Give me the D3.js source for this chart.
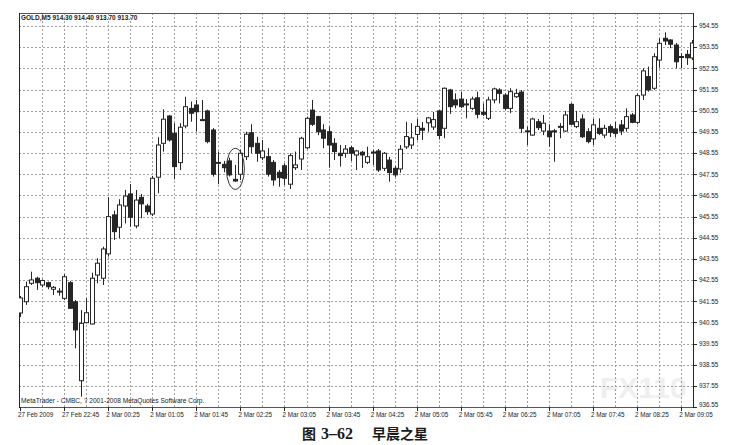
<!DOCTYPE html>
<html><head><meta charset="utf-8">
<script src="https://cdn.jsdelivr.net/npm/d3@7/dist/d3.min.js"></script>
<style>body{margin:0;background:#fff;}svg{display:block;}</style>
</head><body>
<svg id="c" width="738" height="445"></svg>
<script>
const openP = [941.00,941.53,942.40,942.64,942.32,942.43,942.12,941.99,941.69,942.43,941.53,937.80,940.54,940.48,942.79,942.64,943.79,945.63,945.05,946.05,946.62,945.11,946.46,946.05,945.67,947.41,949.01,950.30,949.48,948.10,949.83,950.66,950.82,950.13,950.54,949.64,948.08,948.02,948.18,947.31,947.55,948.38,949.51,949.01,948.33,948.38,948.11,947.64,947.95,947.08,947.86,948.27,948.80,950.58,950.27,949.64,949.56,949.01,948.54,948.54,948.80,948.46,948.59,948.11,948.58,948.65,947.83,948.22,947.83,947.80,948.84,948.93,949.43,949.72,949.98,949.78,950.54,949.72,951.53,951.06,951.10,950.87,950.66,951.16,950.48,950.19,951.06,951.53,951.29,950.66,951.21,951.43,949.58,949.40,950.03,949.59,949.59,949.60,949.78,949.59,950.85,949.80,950.16,949.56,949.22,949.72,949.40,949.80,949.69,949.88,949.72,950.35,950.00,951.29,952.16,951.61,952.94,953.97,953.89,953.65,953.09,953.21,953.04];
const highP = [941.80,942.48,942.95,942.71,942.59,942.48,942.27,942.17,942.83,942.51,941.61,941.14,941.69,942.90,943.58,944.13,946.46,945.83,946.37,946.81,947.09,946.81,946.62,946.15,947.47,949.30,950.62,950.35,949.96,949.96,951.21,950.98,951.06,951.06,950.60,949.73,948.62,948.18,948.33,947.99,948.70,949.56,949.91,949.32,949.17,948.78,948.22,947.75,948.07,948.54,948.62,949.32,950.27,951.06,950.31,949.91,949.80,949.25,948.93,948.93,948.88,948.70,948.65,948.85,948.70,948.74,948.60,948.37,947.94,948.93,950.03,949.96,950.16,950.02,950.25,950.49,950.58,951.65,951.58,951.37,951.45,951.10,951.21,951.45,950.90,951.21,951.64,951.61,951.37,951.61,951.58,951.53,949.80,950.22,950.16,950.35,949.91,949.69,949.96,950.54,950.91,950.54,950.38,949.72,950.16,950.19,949.88,949.91,950.02,950.11,950.66,950.44,951.37,952.55,952.63,953.26,953.97,954.25,953.92,953.75,953.26,953.42,953.89];
const lowP = [940.81,941.38,942.32,942.09,942.21,942.12,941.85,941.82,941.61,941.19,939.33,937.05,940.51,940.46,942.40,942.32,943.66,944.45,944.53,945.23,945.07,945.00,945.47,945.63,945.58,946.65,948.62,949.09,947.31,947.75,949.72,950.03,949.56,950.06,949.01,947.44,947.08,947.64,947.44,947.20,947.28,948.22,948.54,948.14,948.22,947.44,947.01,946.96,947.04,946.85,947.75,947.75,948.74,949.83,949.40,948.78,947.86,948.22,947.91,948.33,948.18,947.75,947.85,948.03,947.99,947.66,947.70,947.20,947.42,947.62,948.74,948.74,949.15,949.17,949.56,949.64,949.19,949.25,950.40,950.66,950.68,950.19,950.58,950.19,950.30,950.11,950.90,950.90,950.58,950.43,951.15,949.50,948.93,949.36,949.64,949.40,948.85,948.14,949.25,949.55,949.88,949.73,949.26,949.01,948.93,949.40,949.25,949.31,949.31,949.40,949.56,949.96,949.91,951.06,951.45,951.53,952.58,953.65,953.50,952.55,952.55,952.71,952.94];
const closeP = [941.71,942.24,942.56,942.43,942.53,942.24,942.21,942.03,942.71,941.22,940.20,940.51,941.01,942.64,943.35,944.02,945.55,944.84,946.10,946.52,945.52,946.33,946.15,945.78,947.36,948.93,950.15,949.17,947.91,949.77,950.74,950.43,950.50,950.10,949.09,947.55,948.11,947.86,947.52,947.23,948.54,949.44,948.85,948.54,948.65,947.55,947.28,947.39,947.36,948.43,947.99,949.25,950.19,949.91,949.56,949.25,948.93,948.62,948.43,948.74,948.54,948.65,948.46,948.38,948.60,947.75,948.54,947.63,947.52,948.73,949.33,949.27,949.81,949.63,950.21,950.13,949.38,951.61,950.74,950.82,950.74,950.84,951.10,950.38,950.38,951.06,951.58,951.37,950.66,951.45,951.37,949.72,949.60,950.16,949.75,949.96,949.32,949.57,949.81,950.35,949.91,950.03,949.32,949.09,949.88,949.48,949.72,949.53,949.48,949.59,950.27,950.00,951.26,952.43,951.53,953.10,953.73,953.84,953.69,952.86,953.11,953.05,953.75];
const priceTicks = [936.55,937.55,938.55,939.55,940.55,941.55,942.55,943.55,944.55,945.55,946.55,947.55,948.55,949.55,950.55,951.55,952.55,953.55,954.55];
const timeTickBars = [0,8,16,24,32,40,48,56,64,72,80,88,96,104,112,120];
const timeTickLabels = ["27 Feb 2009","27 Feb 22:45","2 Mar 00:25","2 Mar 01:05","2 Mar 01:45","2 Mar 02:25","2 Mar 03:05","2 Mar 03:45","2 Mar 04:25","2 Mar 05:05","2 Mar 05:45","2 Mar 06:25","2 Mar 07:05","2 Mar 07:45","2 Mar 08:25","2 Mar 09:05"];
const gridBars = [0,4,8,12,16,20,24,28,32,36,40,44,48,52,56,60,64,68,72,76,80,84,88,92,96,100,104,108,112,116,120];
const starBar = 39;
const headerText = "GOLD,M5  914.30 914.40 913.70 913.70";
const footerText = "MetaTrader - CMBC, ? 2001-2008 MetaQuotes Software Corp.";

const svg = d3.select("#c");
const L = 19, R = 693, T = 13, B = 407;
const x = d3.scaleLinear().domain([0, 122]).range([20, 692.2]);
const y = d3.scaleLinear().domain([936.55, 954.55]).range([407.2, 26]);
const ink = "#262626";
const font = "'Liberation Sans', Arial, sans-serif";

svg.append("defs").append("clipPath").attr("id","pc")
  .append("rect").attr("x",L).attr("y",T).attr("width",R-L).attr("height",B-T);

// faint watermark inside the plot
svg.append("text").attr("x",600).attr("y",398).attr("font-family",font).attr("font-weight","bold")
  .attr("font-size",30).attr("fill","#efefef").text("FX110");

// grid
const g = svg.append("g");
g.selectAll(".hg").data(priceTicks.slice(1)).join("line")
  .attr("x1",L).attr("x2",R).attr("y1",d=>Math.round(y(d))+0.5).attr("y2",d=>Math.round(y(d))+0.5)
  .attr("stroke","#a0a0a0").attr("stroke-dasharray","2,2").attr("stroke-width",1);
g.selectAll(".vg").data(gridBars.slice(1)).join("line")
  .attr("x1",d=>Math.round(x(d))+0.5).attr("x2",d=>Math.round(x(d))+0.5).attr("y1",T).attr("y2",B)
  .attr("stroke","#a0a0a0").attr("stroke-dasharray","2,2").attr("stroke-width",1);

// frame
svg.append("rect").attr("x",L+0.5).attr("y",T+0.5).attr("width",R-L).attr("height",B-T)
  .attr("fill","none").attr("stroke","#555").attr("stroke-width",1);
svg.append("line").attr("x1",L+0.5).attr("x2",L+0.5).attr("y1",T).attr("y2",B+1).attr("stroke",ink);
svg.append("line").attr("x1",R+0.5).attr("x2",R+0.5).attr("y1",T).attr("y2",B+1).attr("stroke",ink);

// candles
const data = openP.map((o,i)=>({i,o,h:highP[i],l:lowP[i],c:closeP[i]}));
const cg = svg.append("g").attr("clip-path","url(#pc)");
cg.selectAll(".wick").data(data).join("line")
  .attr("x1",d=>Math.round(x(d.i))+0.5).attr("x2",d=>Math.round(x(d.i))+0.5)
  .attr("y1",d=>y(d.h)).attr("y2",d=>y(d.l)).attr("stroke",ink).attr("stroke-width",1);
cg.selectAll(".body").data(data).join("rect")
  .attr("x",d=>Math.round(x(d.i))-1.5).attr("width",4)
  .attr("y",d=>y(Math.max(d.o,d.c))).attr("height",d=>Math.max(1,Math.abs(y(d.o)-y(d.c))))
  .attr("fill",d=>d.c>=d.o?"#fff":ink).attr("stroke",ink).attr("stroke-width",1);

// price axis
const ya = svg.append("g");
ya.selectAll("line").data(priceTicks).join("line")
  .attr("x1",R).attr("x2",R+4).attr("y1",d=>Math.round(y(d))+0.5).attr("y2",d=>Math.round(y(d))+0.5).attr("stroke",ink);
ya.selectAll("text").data(priceTicks).join("text")
  .attr("x",R+6).attr("y",d=>Math.min(y(d)+2.3, 407)).attr("font-family",font).attr("font-size",6.3).attr("fill","#222")
  .text(d=>d3.format(".2f")(d));

// time axis
const xa = svg.append("g");
xa.selectAll("line").data(timeTickBars).join("line")
  .attr("x1",d=>Math.round(x(d))+0.5).attr("x2",d=>Math.round(x(d))+0.5).attr("y1",B).attr("y2",B+4).attr("stroke",ink);
xa.selectAll("text").data(timeTickBars).join("text")
  .attr("x",d=>x(d)-2).attr("y",B+9.5).attr("font-family",font).attr("font-size",6.3).attr("fill","#222")
  .text((d,k)=>timeTickLabels[k]);

// header / footer
svg.append("text").attr("x",21).attr("y",20).attr("font-family",font).attr("font-size",6.5).attr("font-weight","bold")
  .attr("fill","#222").text(headerText);
svg.append("text").attr("x",21).attr("y",403).attr("font-family",font).attr("font-size",6.6)
  .attr("fill","#222").text(footerText);

// morning star ellipse
svg.append("ellipse").attr("cx",x(starBar)+0.5).attr("cy",(y(highP[starBar-1])+y(lowP[starBar+1]))/2)
  .attr("rx",9).attr("ry",20.5).attr("fill","none").attr("stroke","#333").attr("stroke-width",1);

// caption
const cap = svg.append("text").attr("y",439).attr("fill","#1a1a1a");
cap.append("tspan").attr("x",302).attr("font-family","'Noto Sans CJK SC'").attr("font-weight","bold").attr("font-size",14).text("图");
cap.append("tspan").attr("x",321).attr("font-family","'Liberation Serif', serif").attr("font-weight","bold").attr("font-size",16).text("3–62");
cap.append("tspan").attr("x",372).attr("font-family","'Noto Sans CJK SC'").attr("font-weight","bold").attr("font-size",14).text("早晨之星");
</script>
</body></html>
